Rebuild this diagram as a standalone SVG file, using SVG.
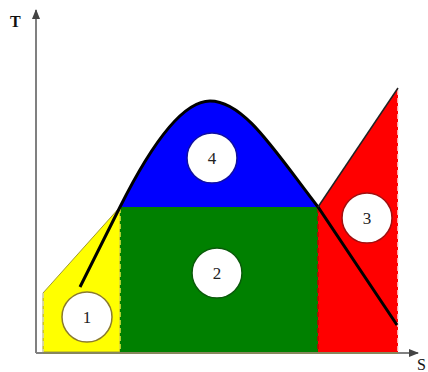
<svg xmlns="http://www.w3.org/2000/svg" width="428" height="372" viewBox="0 0 428 372">
<style>
.num{font-family:"Liberation Serif",serif;font-size:17px;fill:#222;text-anchor:middle}
.lbl{font-family:"Liberation Serif",serif;font-size:16px;fill:#111}
.circ{fill:#fff;stroke-width:1.5}
.dash{fill:none;stroke-width:1.5;stroke-dasharray:5 3}
.axis{stroke:#808080;stroke-width:2;fill:none}
</style>
<defs>
<marker id="arr" viewBox="0 0 10 10" refX="9" refY="5" markerWidth="5" markerHeight="5" orient="auto-start-reverse" markerUnits="strokeWidth">
<path d="M0,1 L10,5 L0,9 z" fill="#444"/>
</marker>
</defs>
<rect width="428" height="372" fill="#fff"/>
<g id="region1">
<polygon points="43,352 43,293 120,207 120,352" fill="#ffff00" stroke="#a09a30" stroke-width="1"/>
<line x1="43" y1="293" x2="43" y2="352" class="dash" stroke="#d8d8c0"/>
</g>
<g id="region2">
<rect x="120" y="207" width="198" height="145" fill="#008000"/>
<line x1="120" y1="208" x2="120" y2="352" class="dash" stroke="#e6e640"/>
</g>
<g id="region4">
<path d="M120,207 C142,163 178,101 210,101 C244,101 274,150 318,207 Z" fill="#0000ff"/>
</g>
<g id="region3">
<polygon points="318,352 318,207 398,88 398,352" fill="#ff0000"/>
<line x1="318" y1="208" x2="318" y2="352" class="dash" stroke="#c00000"/>
<line x1="398" y1="90" x2="398" y2="352" class="dash" stroke="#ffe0e0"/>
</g>
<g id="connectors">
<line x1="36" y1="353" x2="36" y2="10" class="axis" marker-end="url(#arr)"/>
<line x1="36" y1="353" x2="418" y2="353" class="axis" marker-end="url(#arr)"/>
<line x1="43" y1="353" x2="398" y2="353" stroke="#8a8a50" stroke-width="1.5"/>
<path d="M80,287 L120,207 C142,163 178,101 210,101 C244,101 274,150 318,207 L397,325" fill="none" stroke="#000" stroke-width="3"/>
<line x1="318" y1="207" x2="398" y2="88" stroke="#222" stroke-width="1.5"/>
</g>
<g id="n1"><circle cx="87" cy="317" r="25" class="circ" stroke="#8a7a30"/><text x="87" y="323" class="num">1</text></g>
<g id="n2"><circle cx="217" cy="273" r="25" class="circ" stroke="#0a5a0a"/><text x="217" y="279" class="num">2</text></g>
<g id="n3"><circle cx="367" cy="218" r="25" class="circ" stroke="#a01010"/><text x="367" y="224" class="num">3</text></g>
<g id="n4"><circle cx="212" cy="158" r="25" class="circ" stroke="#1010a0"/><text x="212" y="164" class="num">4</text></g>
<text x="10" y="27" class="lbl" font-weight="bold">T</text>
<text x="417" y="370" class="lbl" font-size="15">S</text>
</svg>
